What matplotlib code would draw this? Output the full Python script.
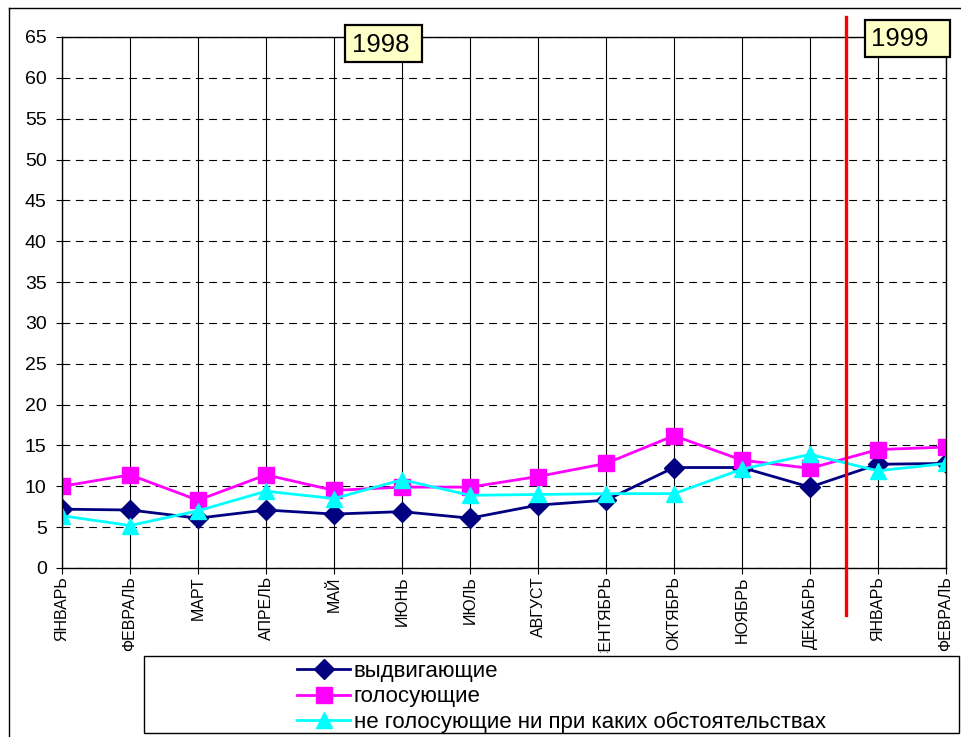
import matplotlib
matplotlib.use('Agg')
import matplotlib.pyplot as plt
from matplotlib.patches import Rectangle
from matplotlib.lines import Line2D

# months on the x axis (1998 Jan .. 1999 Feb)
months = ['ЯНВАРЬ', 'ФЕВРАЛЬ', 'МАРТ', 'АПРЕЛЬ', 'МАЙ', 'ИЮНЬ', 'ИЮЛЬ',
          'АВГУСТ', 'СЕНТЯБРЬ', 'ОКТЯБРЬ', 'НОЯБРЬ', 'ДЕКАБРЬ',
          'ЯНВАРЬ', 'ФЕВРАЛЬ']

# series values
nominating = [7.2, 7.1, 6.1, 7.1, 6.6, 6.9, 6.1, 7.7, 8.3, 12.3, 12.3, 9.9, 12.7, 12.8]
voting = [10.0, 11.4, 8.3, 11.4, 9.5, 9.9, 9.9, 11.2, 12.8, 16.2, 13.2, 12.2, 14.5, 14.8]
never_voting = [6.4, 5.2, 7.0, 9.4, 8.5, 10.8, 8.9, 9.0, 9.1, 9.1, 12.1, 13.9, 11.9, 12.8]

labels = ['выдвигающие', 'голосующие', 'не голосующие ни при каких обстоятельствах']
yticks = list(range(0, 70, 5))
year_split = 11.53  # between December 1998 and January 1999

plt.rcParams['font.family'] = ['Liberation Sans', 'DejaVu Sans']

W, H = 962, 737
fig = plt.figure(figsize=(W / 100, H / 100), dpi=100)


def fx(px):
    return px / W


def fy(py):
    return 1 - py / H


ax = fig.add_axes([fx(62), fy(568), fx(946 - 62), (568 - 37) / H])

x = list(range(len(months)))
ax.plot(x, nominating, color='#000080', lw=2, marker='D', ms=10, label=labels[0])
ax.plot(x, voting, color='#FF00FF', lw=2, marker='s', ms=11, label=labels[1])
ax.plot(x, never_voting, color='#00FFFF', lw=2, marker='^', ms=12, label=labels[2])

# red divider between the two years
ax.plot([year_split, year_split], [67.4, -5.75], color='#FF0000', lw=2.4,
        clip_on=False, zorder=5)

ax.set_xlim(0, len(months) - 1)
ax.set_ylim(0, 65)
ax.set_yticks(yticks)
ax.set_xticks(x)
ax.set_xticklabels(months, rotation=90, fontsize=11.5, va='top')
ax.tick_params(axis='y', labelsize=14, length=4, pad=7, direction='out')
ax.tick_params(axis='x', length=4, pad=2, direction='out')

ax.yaxis.grid(True, color='black', lw=0.8, ls=(0, (7, 5)))
ax.xaxis.grid(True, color='black', lw=0.8, ls='-')
ax.set_axisbelow(True)
for sp in ax.spines.values():
    sp.set_color('black')
    sp.set_linewidth(1)

# clip the month labels above the legend box (the "С" of СЕНТЯБРЬ is cut off)
clip = Rectangle((0, fy(653)), 1, 1, transform=fig.transFigure)
for t in ax.get_xticklabels():
    t.set_clip_path(clip)

# year boxes
for (x0, y0, x1, y1, txt, tx) in [(345, 25, 422, 62, '1998', 352),
                                  (865, 20, 950, 57, '1999', 871)]:
    fig.patches.append(Rectangle((fx(x0), fy(y1)), fx(x1 - x0), (y1 - y0) / H,
                                 transform=fig.transFigure, facecolor='#FFFFC8',
                                 edgecolor='black', lw=1.6, zorder=10))
    fig.text(fx(tx), fy((y0 + y1) / 2 + 1), txt, fontsize=18.5, va='center',
             ha='left', zorder=11)

# outer chart frame (top and left edges visible)
fig.add_artist(Line2D([fx(9), 1], [fy(8), fy(8)], color='black', lw=1,
                      transform=fig.transFigure))
fig.add_artist(Line2D([fx(9), fx(9)], [fy(8), 0], color='black', lw=1,
                      transform=fig.transFigure))

# legend box
fig.patches.append(Rectangle((fx(144), fy(733)), fx(959 - 144), (733 - 656) / H,
                             transform=fig.transFigure, facecolor='white',
                             edgecolor='black', lw=1))
leg = fig.legend(loc='upper left', bbox_to_anchor=(fx(297), fy(661)),
                 frameon=False, fontsize=16, borderpad=0, borderaxespad=0,
                 handlelength=2.4, handletextpad=0.15, labelspacing=0.2)

fig.savefig('out.png', dpi=100)
